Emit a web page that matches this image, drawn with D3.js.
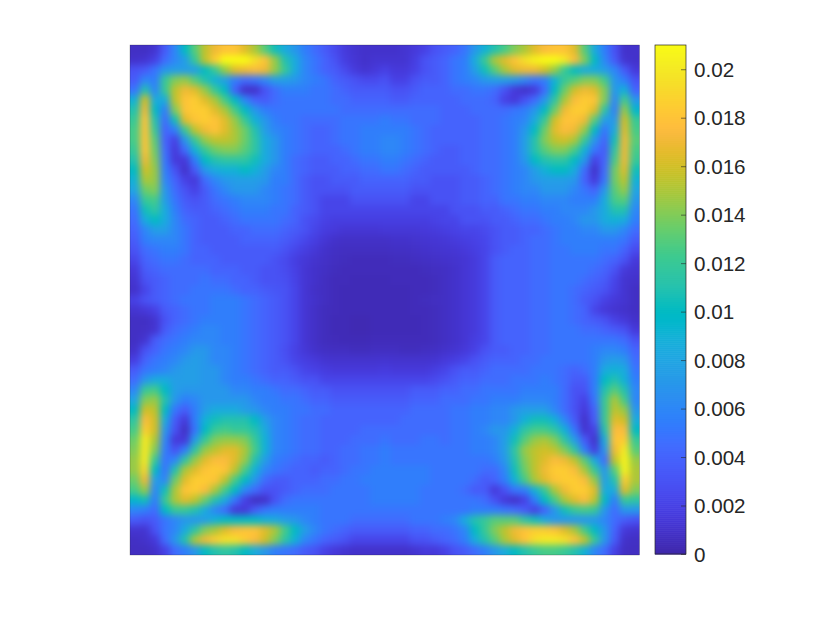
<!DOCTYPE html>
<html><head><meta charset="utf-8">
<script src="https://cdn.jsdelivr.net/npm/d3@7"></script>
<style>html,body{margin:0;padding:0;background:#fff}svg{display:block}</style>
</head><body><svg id="c" width="830" height="623"></svg>
<script>
// Field values, in units of 0.001 (rows top to bottom)
const fieldTop = [
[.8,.8,1.2,3.5,6,10,13,15.5,17,18,18,16.5,15,13,10.5,8.5,7,5.5,4.5,3.5,2.5,1.6,1.2,1,1,1, 1,1.2,1.5,2,3,3.5,4,5,7,9,11,12.5,14,15,16.5,17.5,18,18,16.5,13,8.5,5.5,3,1,1],
[1,1.2,2,4.5,6,7.5,12,15.5,18.5,21,21,21,19.5,18,14.5,11,8.5,6,5,4,3,1.8,1.3,1,1.2,1.2, 1.2,1.2,1.8,3,3.5,4,5,5.5,8.5,12,15,16.5,18,19.5,20.5,21,21,20,17.5,14,10,6,3.5,1.2,1],
[3,3.5,5,7,7.5,7.5,7.5,10,12,14.5,16.5,17,17.5,17,14.5,12,8.5,6,5,4,3.5,2.5,1.6,1.2,1.5,2, 1.5,1.5,2,3,3.5,4,5,5.5,7.5,10.5,13,15,16.5,17,17,16,14.5,12,10,8.5,8.5,7.5,6,3.5,1.5],
[3.5,6,5.5,12,14,14.5,13,11,9,7.5,5.5,4.5,5,6,7.5,7.5,7,6,5.5,5,4,3.5,3,2.5,2.5,3, 2,2,3,3.5,3.5,4,5,5.5,6,7,7.5,7.5,7,6,5,5.5,9,12,13,14,14,12.5,7,5.5,3],
[5,11,6,12,15.5,17,16.5,14.5,12,10,4,1,1,3,4.5,5.5,5.5,5.5,5,5,4.5,4,3.5,3.5,3.5,3.5, 3,3,3.5,4,4,4,4.5,4.5,5,5,4.5,3,1.5,1,1.5,4.5,10,13.5,16,17,16.5,14,7,9,4],
[9,16,8.5,8.5,15.5,18,18.5,16.5,15,12.5,10,6,4,3.5,4.5,5,5,5,5,5,4.5,4.5,4,4,4,4, 3.5,3.5,4,4,4,4,4,4.5,4.5,4.5,4,2,1.5,3,4.5,7,11.5,15,17.5,18.5,18,14,6,12.5,7],
[11,17,10,5.5,14,18,18.5,18.5,16.5,15,12.5,10,7,5.5,5,5,5,5,5,5,5,4.5,4.5,4.5,4.5,4.5, 4.5,4.5,4.5,4.5,4.5,4,4,4,4.5,4.5,4.5,4.5,5,5.5,7,10,13.5,17,18.5,18.5,16.5,11.5,5.5,14.5,9.5],
[12,18,11,4.5,10.5,16.5,18,18.5,18,16.5,14.5,12,9,7,5.5,5,5,4.5,4.5,4.5,4.5,5,5,5,5,5.5, 5,5,4.5,4.5,4.5,4,4,4,4,4.5,4.5,5,5.5,6,8.5,12,16,18,18,17,13,7.5,7,16,12],
[12.5,18,12,4,5.5,12,15.5,17,18,16.5,15,13.5,11,7.5,6,5.5,5,4.5,4,4,4.5,5,5,5.5,5.5,5.5, 5.5,5.5,5,4.5,4,4,4,4,4,4.5,4.5,5,5.5,7,10,13.5,16.5,17.5,17,14.5,10,5,8.5,16.5,12.5],
[12.5,18,13,4,2,7,12,14.5,15.5,15.5,15,13.5,11.5,8.5,7,5.5,5,4.5,4,4,4.5,5,5,5.5,5.5,6, 6,5.5,5,4.5,4,4,4,4,4,4.5,4.5,5,5.5,7.5,11,14,15.5,16,15,12,7,4,10.5,17,13],
[12,18,13.5,4.5,1.5,4.5,9,12,13.5,14,14,13,11.5,8.5,7,5.5,5,4.5,4,4,4,4.5,5,5.5,5.5,6, 6,5.5,5,4.5,4,3.5,3.5,4,4,4.5,4.5,5,5.5,7.5,11,13,14,14,12.5,9,5,3.5,11.5,17,12.5],
[11,17,14,5,1.5,1.5,5.5,10,11,11.5,11.5,11.5,10.5,8.5,7,5.5,4.5,4,3.5,3.5,4,4,4.5,5,5,5.5, 5.5,5,4.5,4,3.5,3.5,3.5,4,4,4.5,4.5,5,5.5,7,10,11,11.5,11.5,10,7,2,4,12.5,17,12],
[10,16,14.5,5.5,3,1,3.5,7,8.5,9,9,10,9,7.5,6,5.5,4.5,4,3.5,3.5,3.5,4,4,4.5,4.5,5, 5,4.5,4,3.5,3.5,3.5,3.5,3.5,4,4.5,4.5,5,5.5,6,7.5,9,10,10,8.5,4.5,1,4.5,13.5,16.5,10.5],
[9,15,14.5,6,4,2,1.5,4.5,6,7,7.5,7.5,7.5,7,5.5,5.5,4.5,3.5,3,3,3.5,3.5,3.5,4,4,4, 4,4,3.5,3.5,3,3,3,3.5,3.5,4,4.5,5,5.5,6,7,7.5,7.5,7.5,7,4,1.5,5,13.5,15.5,9],
[8,13.5,14,7,4.5,3,2,3.5,5,6,7,7,7,6,5.5,5,4.5,3.5,3,3,3,3,3.5,3.5,3.5,3.5, 3.5,3.5,3,3,3,3,3,3.5,3.5,4,4.5,5,5.5,6,6,7,7,7,6,5,4,7,13,14.5,8],
[6,12,12.5,7.5,5,3.5,3,3.5,4.5,5,5.5,6,6,6,5.5,5,4.5,3.5,3,2.2,2.2,2.2,3,3,3,3, 3,3,2.2,2.2,3,3,3,3.5,3.5,4,4,5,5,5.5,5.5,6,6,6,5.5,5.5,5.5,8.5,12.5,13,7],
[5,10.5,11.5,8.5,5.5,4,3.5,3.5,4,4.5,5,5.5,5.5,5.5,5,5,4,3.5,3,2.2,2.2,2.2,2.2,2.2,2.2,2.2, 2.2,2.2,2.2,2.2,2.2,2.2,3,3,3,3.5,3.5,4,4.5,5,5,5.5,5.5,6,6,6,7,8.5,11,11,6],
[4.5,8.5,10,8.5,6,4.5,4,3.5,3.5,4,4.5,5,5,5,5,4.5,4,3,2.5,2,1.8,1.8,1.8,1.8,1.8,1.8, 1.8,1.8,1.8,1.8,2,2.2,2.2,3,3,3,3.5,3.5,4,4.5,4.5,5,5.5,5.5,6,7,7,8.5,9,8.5,5.5],
[4,6,7.5,7.5,6,5,4,3.5,3.5,3.5,4,4,4.5,4.5,4.5,4,3.5,3,2.2,1.7,1.5,1.3,1.3,1.3,1.3,1.4, 1.4,1.4,1.4,1.5,1.6,1.8,2,2.2,2.2,2.5,3,3.5,3.5,4,4,4.5,5,5.5,5.5,6,6,7,7,6,4.5],
[3.5,5.5,6,6,6,5,4,3.5,3.5,3.5,3.5,4,4,4,4,3.5,3,2.3,1.8,1.3,1,.9,.9,.9,.9,.9, 1,1,1.1,1.2,1.3,1.4,1.6,1.8,2,2.3,3,3.5,3.5,4,4.5,4.5,5,5.5,5.5,5.5,5.5,5.5,5.5,5,3.5],
[3,4.5,5,5.5,5.5,5,4,4,3.5,3.5,3.5,3.5,3.5,3.5,3.5,3,2.3,1.8,1.4,1,.8,.7,.7,.7,.7,.7, .8,.8,.9,1,1.1,1.2,1.3,1.5,1.8,2.2,3,3.5,4,4,4.5,4.5,5,5,5.5,5.5,5.5,5,5,4,2.5],
[2.2,4,4.5,5,5,4.5,4,4,4,3.5,3.5,3.5,3.5,3.5,3,2.5,1.8,1.4,1.1,.9,.7,.6,.5,.5,.5,.5, .6,.6,.7,.8,.9,1,1.1,1.3,1.6,2.2,3.5,4,4,4,4.5,4.5,5,5,5,5,5,4.5,4,3,1.5],
[1.5,3.5,4,4.5,4.5,4.5,4.5,4.5,4,4,4,3.5,3.5,3,3,2.6,2,1.3,1,.8,.6,.5,.5,.5,.5,.5, .5,.5,.5,.6,.7,.8,1,1.3,1.6,2.2,3.5,4,4,4,4.5,4.5,5,5,5,5,4.5,4,3,1.5,1.2],
[1.2,3,3.5,4,4.5,4.5,4.5,5,4.5,4.5,4,4,3.5,3,3,2.8,2.1,1.3,1,.7,.5,.5,.4,.4,.4,.4, .5,.5,.5,.5,.6,.8,1,1.3,1.6,2.2,3.5,4,4,4,4.5,4.5,5,5,5,4.5,4,3.5,2.2,1.2,1],
[1,2.2,3.5,4,4.5,4.5,5,5,5,5,4.5,4,4,3.5,3.2,3,2.2,1.3,.9,.7,.5,.4,.4,.4,.4,.4, .4,.4,.5,.5,.6,.8,1,1.3,1.6,2.2,3.5,4,4,4,4.5,4.5,5,5,4.5,4,3.5,3,2,1.2,.8]
];
const fieldBottom = [
[2,3,3.5,4,4.5,5,5,5,5.5,5.5,5.5,5,4.5,4,3.5,3,2.2,1.3,1,.7,.5,.4,.4,.4,.4,.4, .4,.4,.5,.6,.7,.8,1,1.3,1.6,2.2,3.5,4,4,4,4.5,4.5,5,5,4.5,3.5,3,2,1.5,1.2,.8],
[1.2,1.5,2,3.5,4,4.5,5,5,5.5,5.5,5.5,5,4.5,4,3.5,3,2.2,1.3,.9,.6,.5,.4,.4,.4,.4,.4, .4,.4,.5,.5,.6,.8,1,1.3,1.6,2.2,3.5,4,4,4,4.5,4.5,5,5,4.5,4,2.2,1.5,1.2,1,.8],
[.8,.8,1.2,3,4,4.5,5,5.5,5.5,5.5,5.5,5,4.5,4,3.5,3,2.2,1.3,.9,.6,.4,.4,.3,.3,.4,.4, .4,.4,.4,.5,.6,.8,1,1.3,1.6,2.2,3.5,4,4,4,4.5,4.5,5,5,4.5,4,3.5,3,2,1.5,1],
[.8,.9,1.2,3.5,4.5,5,5.5,6,6,5.5,5.5,5,4.5,4,3.5,3,2.2,1.3,.9,.6,.4,.4,.3,.3,.4,.4, .4,.4,.4,.5,.6,.8,1,1.3,1.6,2.2,3.5,4,4,4,4.5,4.5,5,5,5,4.5,4.5,4,3.5,3,1.5],
[.8,1.2,3.5,4.5,5,5.5,6,6,6,5.5,5.5,5,4.5,4,3.5,3,2.2,1.3,.9,.6,.5,.4,.4,.4,.5,.5, .5,.5,.5,.5,.6,.8,1,1.3,1.8,2.2,3.5,4,4,4,4.5,4.5,5,5,5,5,5,5,5,4.5,3],
[1,3,4,5,5.5,6,7,7,6,6,5.5,5,4.5,4,3.5,2.8,2,1.4,1,.8,.7,.7,.6,.6,.7,.7, .7,.6,.6,.7,.8,1,1.2,1.5,2,3,3.5,3.5,4,4,4.5,4.5,5,5,5,5,5.5,6,6,5.5,4],
[1.8,4,5,5.5,6,7,7.5,7,6,6,5.5,5,4.5,4,3.5,3,2.2,1.8,1.5,1.2,1.1,1.1,1.1,1.1,1.1,1.2, 1.1,1.1,1.1,1.1,1.2,1.5,1.8,2.2,3,3.5,4,4,4,4.5,4.5,5,5,5,5,5,5.5,7,7.5,7,4.5],
[3.5,5,5.5,6,7,7.5,7.5,7,7,6,5.5,5,4.5,4,3.5,3.5,3,2.2,2,1.7,1.5,1.5,1.5,1.5,1.5,1.7, 1.5,1.5,1.5,1.5,1.8,2.2,3,3.5,3.5,4,4.5,4.5,4.5,4.5,5,5,5,4.5,4,4.5,5.5,8.5,9,8.5,5],
[4.5,7,8.5,8.5,7.5,7.5,7.5,7,7,6,5.5,5.5,5,4.5,4,4,3.5,3,3,2.2,2.2,2.2,2.2,2.2,2.2,2.2, 2.2,2.2,2.2,2.2,2.5,3,3.5,4,4,4.5,4.5,4.5,5,5,5,5.5,5,4.5,3.5,3.5,5.5,10,11,9,5.5],
[6,12,12.5,10,7.5,7,7,7,7,7,6,6,5.5,5.5,5,4.5,4.5,4,3.5,3.5,3,3,3,3,3,3, 3,3,3.5,3.5,3.5,4,4,4.5,4.5,5,5,5,5,5.5,5.5,5.5,5.5,4.5,3,3,5.5,11,13,11,6],
[8,14,14.5,11,7,5.5,6,7,7,7,7,7,6,5.5,5.5,5,5,4.5,4,4,3.5,3.5,3.5,3.5,3.5,3.5, 3.5,3.5,4,4,4,4.5,4.5,4.5,5,5,5.5,5.5,5.5,6,6,6,5.5,4.5,3,2,5,12,15,12.5,6],
[10,16,15.5,10,5,3.5,5.5,7.5,8.5,8.5,8.5,7.5,7,6,5.5,5.5,5,5,4.5,4.5,4,4,4,4,4,4, 4,4,4.5,4.5,4.5,4.5,5,5,5.5,5.5,6,6,7,7.5,7.5,7.5,6,4.5,3,1.5,4,12,15.5,14.5,7],
[11.5,17.5,16,8.5,3.5,1.5,5.5,9,10.5,11,11,11,10,7.5,6,5.5,5,4.5,4.5,4,4,4,4,4,4,4, 4,4.5,4.5,4.5,4.5,4.5,5,5,5.5,5.5,6,6,7,9,10.5,10.5,9,6,3.5,1,3.5,12,16.5,16,8.5],
[12.5,18.5,16,7,3,.8,5,10,12,12.5,12,12,11,8.5,6,5.5,5,4.5,4.5,4,4,4,4,4.5,4.5,4.5, 4.5,4.5,4.5,4.5,4.5,4.5,5,5,5.5,6,7,7,9,11.5,12.5,12.5,11.5,9,5,1.2,2,11,17.5,17.5,10],
[13.5,20,15,6,1.5,1.5,7.5,12,14,14.5,14.5,14,12,9,6,5.5,5,4.5,4.5,4,4,4,4.5,4.5,4.5,5, 4.5,4.5,4.5,5,5,4.5,5,5,5.5,5.5,6,7.5,10.5,13,14.5,15,14,11.5,7.5,3.5,1,8.5,18,18.5,12],
[14,20,14,5.5,3,5.5,11.5,14.5,15.5,16.5,16.5,15,12.5,9,6,5.5,5,4.5,4.5,4,4,4.5,4.5,5,5,5.5, 5,5,5,5,5,5,5,5,5.5,5.5,6,7.5,11.5,14.5,15.5,16,15.5,14,11.5,5.5,1.8,7,17,20,13],
[14.5,20,12,5,6,11.5,14.5,16.5,17.5,17.5,16.5,14.5,11,7.5,5.5,5,4.5,4,4,3.5,4,4.5,4.5,5,5,5.5, 5,5,5,5,5,5,5,5,5,5,5.5,7,11,14,15.5,16.5,17.5,17,15.5,13,8.5,4.5,15.5,20.5,14.5],
[14.5,19,10,5,11,15,16.5,18,18.5,18,15.5,12.5,9,6,5,4.5,4,4,3.5,4,4,4.5,5,5,5.5,5.5, 5.5,5.5,5.5,5.5,5,5,5,5,5,4.5,4.5,6,10.5,13.5,15.5,17,18.5,18.5,17.5,15,12,7,13,20.5,15],
[13.5,17,7.5,6,13.5,16.5,18.5,18.5,18,15.5,12.5,10,7,4.5,3.5,3.5,4,4,4,4.5,4.5,5,5,5.5,5.5,5.5, 5.5,5.5,5.5,5.5,5,5,5,5,4.5,3.5,4,5.5,9,12.5,15,16.5,18,18.5,18.5,17.5,14.5,7.5,11,18.5,15],
[12.5,14.5,6,10.5,15,18,18.5,17.5,15,12.5,10,6,4.5,3,3,3.5,4,4.5,4.5,4.5,5,5,5,5,5.5,5.5, 5.5,5.5,5.5,5,5,5,5,4.5,3.5,3.5,1.5,3,5,5.5,9,12,15,17,18.5,18.5,16.5,8.5,8.5,16.5,14],
[9.5,10.5,5.5,12,15,16.5,15.5,13.5,11,8.5,5,2,.8,1,3,4.5,5,5,5,5,5,5,5,5,5.5,5.5, 5.5,5.5,5.5,5,5,5,5,5,5,4.5,3,1.5,1,2,5.5,10,12.5,15,16.5,17.5,15.5,10,5.5,12,11.5],
[6,5.5,4.5,10,12,12,11,8.5,6,4.5,1.5,1.5,3.5,5,5.5,5.5,5.5,5.5,5.5,5,5,5,5,5,5,5, 5,5,5,5,5,5,5,5,5.5,5.5,5.5,5,4.5,3.5,2,4,7,10.5,12,12.5,12,7,4.5,7,7],
[3.5,3,3.5,5,6,7,7,7.5,9,10,10,10,10,9,8.5,7.5,7,6,5.5,5,5,5,4.5,4.5,4.5,4.5, 4.5,4.5,5,5,5,5.5,6,8.5,11,12,13,13,13,11.5,10.5,8.5,7,7,7,7,7,6,4.5,3.5,3],
[1.2,1.2,3,5,6,8.5,11.5,14,15,16.5,17.5,18,18,16.5,15,12.5,10,7.5,6,5,4.5,4,3.5,3.5,3.5,3.5, 3.5,3.5,4,4,4.5,4.5,5,6,10,12,14,15.5,17,18,18.5,18.5,18,16.5,15,12.5,10,7,4,1.5,1.2],
[.8,1,1.5,4.5,7,11,15,17,18.5,19.5,19.5,18.5,17.5,16,14,11.5,9,6,5,4,3.5,3,2.2,2.2,2.2,2.2, 2.2,2.2,3,3,3.5,4,4.5,5.5,8.5,11,13,15,16.5,18,19.5,20,20,19.5,18,15.5,12,7,3.5,1,.8],
[.7,.7,1,2,4.5,5.5,7,10,11,11.5,11,10,8.5,7,5.5,5,4.5,3.5,3,2,1.5,1.2,1,1,1,1, 1,1,1.2,1.5,1.5,2,3,3.5,4.5,5.5,7,8.5,10,11,12,12.5,12.5,12,11,9,6,4.5,2,.8,.7]
];
const field = fieldTop.concat(fieldBottom);
const valueUnit = 0.001;
const colorMax = 0.021;
const tickValues = [0,0.002,0.004,0.006,0.008,0.01,0.012,0.014,0.016,0.018,0.02];
const tickLabels = ["0","0.002","0.004","0.006","0.008","0.01","0.012","0.014","0.016","0.018","0.02"];
const parula = [[.2422,.1504,.6603],[.2504,.165,.7076],[.2578,.1818,.7511],[.2647,.1978,.7952],[.2706,.2147,.8364],[.2751,.2342,.871],[.2783,.2559,.8991],[.2803,.2782,.9221],[.2813,.3006,.9414],[.281,.3228,.9579],[.2795,.3447,.9717],[.276,.3667,.9829],[.2699,.3892,.9906],[.2602,.4123,.9952],[.244,.4358,.9988],[.2206,.4603,.9973],[.1963,.4847,.9892],[.1834,.5074,.9798],[.1786,.5289,.9682],[.1764,.5499,.952],[.1687,.5703,.9359],[.154,.5902,.9218],[.146,.6091,.9079],[.138,.6276,.8973],[.1248,.6459,.8883],[.1113,.6635,.8763],[.0952,.6798,.8598],[.0689,.6948,.8394],[.0297,.7082,.8163],[.0036,.7203,.7917],[.0067,.7312,.766],[.0433,.7411,.7394],[.0964,.75,.712],[.1408,.7584,.6842],[.1717,.767,.6554],[.1938,.7758,.6251],[.2161,.7843,.5923],[.247,.7918,.5567],[.2906,.7973,.5188],[.3406,.8008,.4789],[.3909,.8029,.4354],[.4456,.8024,.3909],[.5044,.7993,.348],[.5616,.7942,.3045],[.6174,.7876,.2612],[.672,.7793,.2227],[.7242,.7698,.191],[.7738,.7598,.1646],[.8203,.7498,.1535],[.8634,.7406,.1596],[.9035,.733,.1774],[.9393,.7288,.21],[.9728,.7298,.2394],[.9956,.7434,.2371],[.997,.7659,.2199],[.9952,.7893,.2028],[.9892,.8136,.1885],[.9786,.8386,.1766],[.9676,.8639,.1643],[.961,.889,.1537],[.9597,.9135,.1423],[.9628,.9373,.1265],[.9691,.9606,.1064],[.9769,.9839,.0805]];

const svg = d3.select("#c");
const plot = {l:130,r:639.5,t:45,b:555};
const bar = {l:655,r:686,t:45,b:554};
const textColor = "#262626";
const rgb = parula.map(c=>d3.rgb(c[0]*255,c[1]*255,c[2]*255));
const color = d3.scaleSequential(d3.piecewise(d3.interpolateRgb,rgb)).domain([0,colorMax]);
const idx = d3.range(field.length);
const x = d3.scaleBand().domain(idx).range([plot.l,plot.r]);
const y = d3.scaleBand().domain(idx).range([plot.t,plot.b]);

const defs = svg.append("defs");
defs.append("clipPath").attr("id","plotClip").append("rect")
  .attr("x",plot.l).attr("y",plot.t).attr("width",plot.r-plot.l).attr("height",plot.b-plot.t);
defs.append("filter").attr("id","smooth").attr("filterUnits","userSpaceOnUse")
  .attr("x",0).attr("y",0).attr("width",830).attr("height",623)
  .attr("color-interpolation-filters","sRGB")
  .append("feGaussianBlur").attr("stdDeviation",3.6);

const pad = 30, last = field.length-1;
const cells = field.flatMap((row,j)=>row.map((v,i)=>({i,j,v})));
svg.append("g").attr("clip-path","url(#plotClip)")
  .append("g").attr("filter","url(#smooth)")
  .selectAll("rect").data(cells).join("rect")
  .attr("x",d=>x(d.i)-(d.i===0?pad:0))
  .attr("y",d=>y(d.j)-(d.j===0?pad:0))
  .attr("width",d=>x.bandwidth()+(d.i===0||d.i===last?pad:0)+.6)
  .attr("height",d=>y.bandwidth()+(d.j===0||d.j===last?pad:0)+.6)
  .attr("fill",d=>color(d.v*valueUnit));
svg.append("rect").attr("x",plot.l).attr("y",plot.t).attr("width",plot.r-plot.l).attr("height",plot.b-plot.t)
  .attr("fill","none").attr("stroke",textColor).attr("stroke-opacity",.5).attr("stroke-width",.5);

// Colorbar
const barScale = d3.scaleLinear().domain([0,colorMax]).range([bar.b,bar.t]);
const slices = d3.range(256);
svg.append("g").selectAll("rect").data(slices).join("rect")
  .attr("x",bar.l).attr("width",bar.r-bar.l)
  .attr("y",s=>barScale((s+1)/256*colorMax))
  .attr("height",s=>barScale(s/256*colorMax)-barScale((s+1)/256*colorMax)+.6)
  .attr("fill",s=>color((s+.5)/256*colorMax));
const axis = d3.axisRight(barScale).tickValues(tickValues)
  .tickFormat((d,i)=>tickLabels[i]).tickSize(0).tickPadding(8);
const ag = svg.append("g").attr("transform",`translate(${bar.r},0)`).call(axis);
ag.select(".domain").remove();
ag.selectAll("text").attr("font-family","'Liberation Sans',Arial,sans-serif")
  .attr("font-size",20.6).attr("fill",textColor).attr("y",.6);
ag.selectAll(".tick").append("line").attr("x1",-5).attr("x2",0).attr("stroke",textColor).attr("stroke-width",.6);
svg.append("rect").attr("x",bar.l).attr("y",bar.t).attr("width",bar.r-bar.l).attr("height",bar.b-bar.t)
  .attr("fill","none").attr("stroke",textColor).attr("stroke-width",.7);
</script></body></html>
